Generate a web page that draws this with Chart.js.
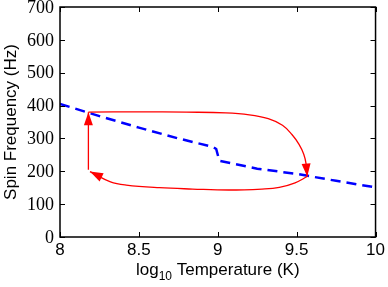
<!DOCTYPE html>
<html>
<head>
<meta charset="utf-8">
<script src="https://cdn.jsdelivr.net/npm/chart.js@4"></script>
<style>
  html, body { margin: 0; padding: 0; background: #fff; }
  #wrap { width: 388px; height: 287px; position: relative; }
</style>
</head>
<body>
<div id="wrap"><canvas id="chart"></canvas></div>
<script>
// axis ticks
const tempTicks = [8, 8.5, 9, 9.5, 10];
const freqTicks = [0, 100, 200, 300, 400, 500, 600, 700];

// equilibrium spin frequency track (blue dashed)
const trackTemp = [8, 8.25, 8.5, 8.75, 8.97, 8.99, 9.01, 9.25, 9.5, 9.75, 10];
const trackFreq = [405, 368, 333, 300, 274, 268, 232, 208, 192, 171, 151];

// hysteresis loop (red arrows)
const riseTemp = [8.18, 8.18];
const riseFreq = [205, 380];
const heatTemp = [8.18, 8.5, 8.8, 9.05, 9.2, 9.32, 9.41, 9.47, 9.515, 9.545, 9.56, 9.567];
const heatFreq = [380, 381, 380, 378, 372, 360, 340, 312, 282, 252, 222, 184];
const coolTemp = [9.567, 9.49, 9.39, 9.28, 9.07, 8.84, 8.63, 8.42, 8.32, 8.19];
const coolFreq = [184, 165, 151, 146, 143, 146, 150, 158, 168, 199];

const toPoints = (xs, ys) => xs.map((x, i) => ({ x: x, y: ys[i] }));

const red = '#ff0000';
const serifFont = "18px 'Liberation Serif', 'Times New Roman', serif";

const frameAndArrows = {
  id: 'frameAndArrows',
  afterDatasetsDraw(chart) {
    const ctx = chart.ctx;
    const a = chart.chartArea;
    const xs = chart.scales.x, ys = chart.scales.y;

    // arrow heads at the end of each red segment
    chart.data.datasets.forEach((ds, i) => {
      if (!ds.arrowHead) return;
      const pts = chart.getDatasetMeta(i).data;
      const last = pts[pts.length - 1];
      let px = pts[pts.length - 2].x, py = pts[pts.length - 2].y;
      if (last.cp1x !== undefined && (Math.abs(last.cp1x - last.x) + Math.abs(last.cp1y - last.y)) > 0.5) {
        px = last.cp1x; py = last.cp1y;
      }
      const ang = Math.atan2(last.y - py, last.x - px);
      const len = 13, half = 4.5;
      ctx.save();
      ctx.translate(last.x, last.y);
      ctx.rotate(ang);
      ctx.beginPath();
      ctx.moveTo(0, 0);
      ctx.lineTo(-len, -half);
      ctx.lineTo(-len, half);
      ctx.closePath();
      ctx.fillStyle = red;
      ctx.fill();
      ctx.restore();
    });

    // box with inward ticks
    ctx.save();
    ctx.strokeStyle = '#000';
    ctx.lineWidth = 1.5;
    ctx.strokeRect(a.left, a.top, a.right - a.left, a.bottom - a.top);
    ctx.lineWidth = 1;
    ctx.beginPath();
    xs.ticks.forEach(t => {
      const x = Math.round(xs.getPixelForValue(t.value)) + 0.5;
      ctx.moveTo(x, a.bottom); ctx.lineTo(x, a.bottom - 5);
      ctx.moveTo(x, a.top); ctx.lineTo(x, a.top + 5);
    });
    ys.ticks.forEach(t => {
      const y = Math.round(ys.getPixelForValue(t.value)) + 0.5;
      ctx.moveTo(a.left, y); ctx.lineTo(a.left + 5, y);
      ctx.moveTo(a.right, y); ctx.lineTo(a.right - 5, y);
    });
    ctx.stroke();

    // y tick labels (serif, like the original)
    ctx.font = serifFont;
    ctx.fillStyle = '#000';
    ctx.textAlign = 'right';
    ctx.textBaseline = 'middle';
    ys.ticks.forEach(t => {
      ctx.fillText(String(t.value), a.left - 6, ys.getPixelForValue(t.value) + 1);
    });
    ctx.restore();
  },
  afterDraw(chart) {
    const ctx = chart.ctx;
    const a = chart.chartArea;
    ctx.save();
    ctx.fillStyle = '#000';
    ctx.textBaseline = 'alphabetic';

    // x title with subscript
    const big = "17px 'Liberation Sans', Arial, sans-serif";
    const small = "12px 'Liberation Sans', Arial, sans-serif";
    ctx.font = big;
    const w1 = ctx.measureText('log').width;
    const w3 = ctx.measureText(' Temperature (K)').width;
    ctx.font = small;
    const w2 = ctx.measureText('10').width;
    let x = (a.left + a.right) / 2 - (w1 + w2 + w3) / 2;
    const base = 275;
    ctx.font = big; ctx.fillText('log', x, base); x += w1;
    ctx.font = small; ctx.fillText('10', x, base + 5); x += w2;
    ctx.font = big; ctx.fillText(' Temperature (K)', x, base);

    // y title
    ctx.translate(16, (a.top + a.bottom) / 2);
    ctx.rotate(-Math.PI / 2);
    ctx.textAlign = 'center';
    ctx.font = big;
    ctx.fillText('Spin Frequency (Hz)', 0, 0);
    ctx.restore();
  }
};

new Chart(document.getElementById('chart'), {
  type: 'scatter',
  data: {
    datasets: [
      {
        data: toPoints(trackTemp, trackFreq),
        showLine: true,
        borderColor: '#0000ff',
        borderWidth: 2.5,
        borderDash: [10, 6],
        pointRadius: 0,
        tension: 0,
        order: 2
      },
      {
        data: toPoints(riseTemp, riseFreq),
        showLine: true,
        borderColor: red,
        borderWidth: 1.3,
        pointRadius: 0,
        tension: 0,
        arrowHead: true,
        order: 1
      },
      {
        data: toPoints(heatTemp, heatFreq),
        showLine: true,
        borderColor: red,
        borderWidth: 1.3,
        pointRadius: 0,
        tension: 0.4,
        arrowHead: true,
        order: 1
      },
      {
        data: toPoints(coolTemp, coolFreq),
        showLine: true,
        borderColor: red,
        borderWidth: 1.3,
        pointRadius: 0,
        tension: 0.4,
        arrowHead: true,
        order: 1
      }
    ]
  },
  options: {
    responsive: true,
    maintainAspectRatio: false,
    animation: false,
    layout: { padding: { top: 7, right: 11, bottom: 0, left: 0 } },
    plugins: {
      legend: { display: false },
      tooltip: { enabled: false }
    },
    scales: {
      x: {
        type: 'linear',
        min: 8,
        max: 10,
        afterBuildTicks: s => { s.ticks = tempTicks.map(v => ({ value: v })); },
        afterFit: s => { s.height = 50; },
        grid: { display: false, drawTicks: false, tickLength: 0 },
        border: { display: false },
        ticks: {
          padding: 3,
          color: '#000',
          maxRotation: 0,
          callback: v => String(v),
          font: { family: "'Liberation Sans', Arial, sans-serif", size: 17 }
        }
      },
      y: {
        type: 'linear',
        min: 0,
        max: 700,
        afterBuildTicks: s => { s.ticks = freqTicks.map(v => ({ value: v })); },
        afterFit: s => { s.width = 60; },
        grid: { display: false, drawTicks: false, tickLength: 0 },
        border: { display: false },
        ticks: { display: false }
      }
    }
  },
  plugins: [frameAndArrows]
});
</script>
</body>
</html>
